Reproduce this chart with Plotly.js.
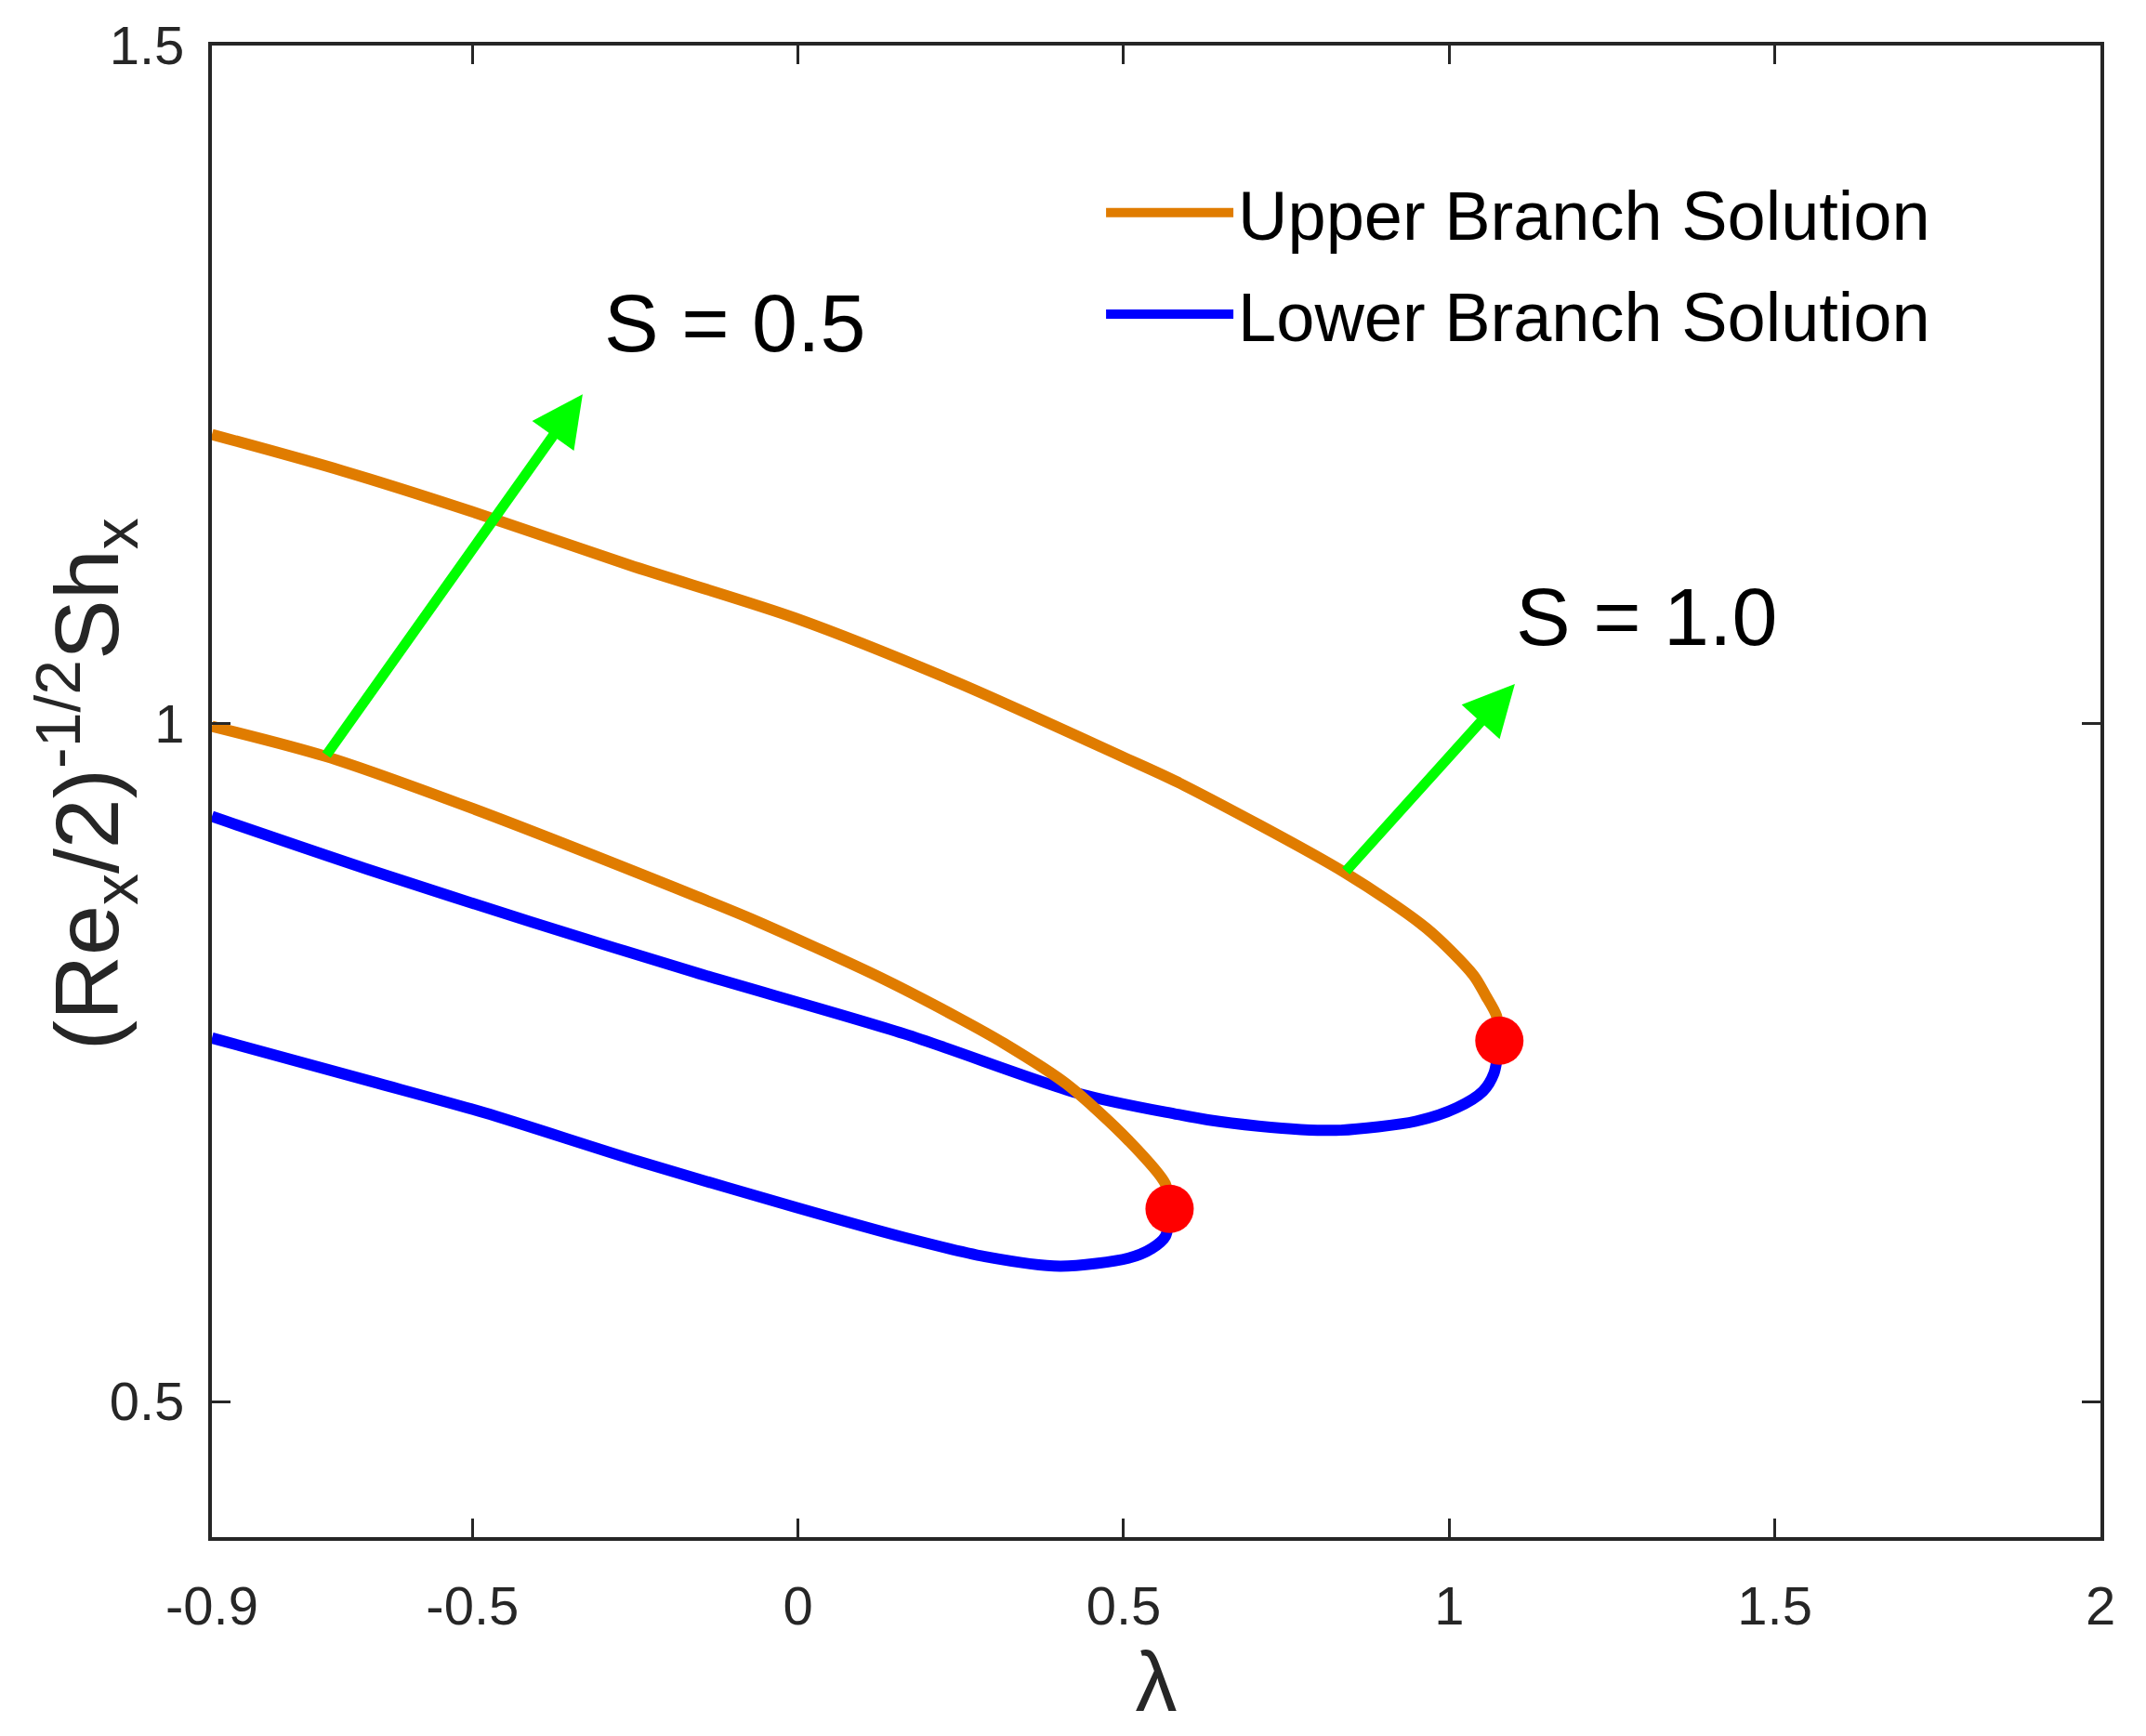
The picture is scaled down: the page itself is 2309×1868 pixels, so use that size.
<!DOCTYPE html>
<html>
<head>
<meta charset="utf-8">
<script src="https://cdn.plot.ly/plotly-3.0.1.min.js"></script>
<style>
  body { margin: 0; background: #fff; }
</style>
</head>
<body>
<div id="id_plotly_1" style="width:2309px;height:1868px;"></div>
<script>
// S = 1.0 upper branch
let x_up1 = [-0.9, -0.7004, -0.5008, -0.2592, -0.0029, 0.245, 0.497, 0.5832, 0.8395, 0.9655, 1.037, 1.0559, 1.0727, 1.077];
let y_up1 = [1.2132, 1.1865, 1.1563, 1.1169, 1.0776, 1.0302, 0.9758, 0.9567, 0.8901, 0.8488, 0.8145, 0.7994, 0.7843, 0.7661];

// S = 1.0 lower branch
let x_lo1 = [-0.9, -0.6584, -0.4105, -0.1584, 0.163, 0.434, 0.5832, 0.6294, 0.7071, 0.7723, 0.8332, 0.9487, 1.0118, 1.0517, 1.0685, 1.077];
let y_lo1 = [0.9315, 0.8921, 0.8538, 0.8165, 0.7712, 0.7268, 0.7117, 0.7077, 0.7031, 0.7006, 0.7001, 0.7067, 0.7167, 0.7288, 0.7419, 0.7661];

// S = 0.5 upper branch
let x_up05 = [-0.9, -0.7256, -0.5008, -0.1584, -0.066, 0.1273, 0.245, 0.3164, 0.413, 0.5076, 0.5643, 0.5706];
let y_up05 = [0.998, 0.9758, 0.9375, 0.873, 0.8548, 0.8125, 0.7833, 0.7641, 0.7339, 0.6925, 0.6603, 0.6421];

// S = 0.5 lower branch
let x_lo05 = [-0.9, -0.6542, -0.4819, -0.2466, -0.0029, 0.163, 0.287, 0.4025, 0.5076, 0.5433, 0.5643, 0.5706];
let y_lo05 = [0.7681, 0.7359, 0.7130, 0.6774, 0.6431, 0.621, 0.6069, 0.5998, 0.6058, 0.6129, 0.622, 0.6421];

// critical points (red dots)
let x_crit = [0.5706, 1.077];
let y_crit = [0.6421, 0.7661];

// arrows: tail -> head, and their labels
let arrow_tail_x = [-0.7256, 0.8395];
let arrow_tail_y = [0.9758, 0.8901];
let arrow_head_x = [-0.3307, 1.1008];
let arrow_head_y = [1.2429, 1.0292];
let label_text = ["S = 0.5", "S = 1.0"];
let label_x = [-0.0975, 1.3023];
let label_y = [1.2954, 1.079];

let x_ticks = [-0.9, -0.5, 0, 0.5, 1, 1.5, 2];
let x_ticktext = ["-0.9", "-0.5", "0", "0.5", "1", "1.5", "2"];
let y_ticks = [0.5, 1, 1.5];
let y_ticktext = ["0.5", "1", "1.5"];

let orange = "#e07c00";
let blue = "#0000ff";
let font_family = "Liberation Sans, Arial";

// common line style (smooth curves)
function curve(color) {
    return { color: color, width: 12, shape: "spline", smoothing: 0.8 };
}

let trace1 = {
    x: x_up1, y: y_up1,
    type: "scatter", mode: "lines",
    line: curve(orange),
    name: "Upper Branch Solution",
    legendgroup: "up",
};
let trace2 = {
    x: x_lo1, y: y_lo1,
    type: "scatter", mode: "lines",
    line: curve(blue),
    name: "Lower Branch Solution",
    legendgroup: "lo",
};
let trace3 = {
    x: x_up05, y: y_up05,
    type: "scatter", mode: "lines",
    line: curve(orange),
    name: "Upper Branch Solution",
    legendgroup: "up",
    showlegend: false,
};
let trace4 = {
    x: x_lo05, y: y_lo05,
    type: "scatter", mode: "lines",
    line: curve(blue),
    name: "Lower Branch Solution",
    legendgroup: "lo",
    showlegend: false,
};
let trace5 = {
    x: x_crit, y: y_crit,
    type: "scatter", mode: "markers",
    marker: { color: "#ff0000", size: 52 },
    showlegend: false,
};

let data = [trace1, trace2, trace3, trace4, trace5];

// green arrows + text labels
let annotations = [];
for (let i = 0; i < arrow_head_x.length; i++) {
    annotations.push({
        x: arrow_head_x[i], y: arrow_head_y[i],
        ax: arrow_tail_x[i], ay: arrow_tail_y[i],
        xref: "x", yref: "y", axref: "x", ayref: "y",
        text: "",
        showarrow: true,
        arrowhead: 2,
        arrowsize: 1.0,
        arrowwidth: 11,
        arrowcolor: "#00ff00",
    });
    annotations.push({
        x: label_x[i], y: label_y[i],
        xref: "x", yref: "y",
        text: label_text[i],
        showarrow: false,
        font: { family: font_family, size: 88, color: "#000" },
    });
}

// y-axis label placed as a rotated annotation (sits closer to the axis than the title allows)
annotations.push({
    x: -0.066, y: 0.505,
    xref: "paper", yref: "paper",
    xanchor: "center", yanchor: "middle",
    text: "(Re<sub>x</sub>/2)<sup>-1/2</sup>Sh<sub>x</sub>",
    textangle: -90,
    showarrow: false,
    font: { family: font_family, size: 97, color: "#262626" },
});

let axis_common = {
    showline: true,
    mirror: "ticks",
    linecolor: "#262626",
    linewidth: 4,
    ticks: "inside",
    ticklen: 20,
    tickwidth: 3,
    tickcolor: "#262626",
    showgrid: false,
    zeroline: false,
    tickfont: { family: font_family, size: 58, color: "#262626" },
};

let layout = {
    width: 2309,
    height: 1868,
    margin: { l: 228, r: 49, t: 49, b: 214 },
    paper_bgcolor: "#fff",
    plot_bgcolor: "#fff",
    showlegend: true,
    legend: {
        x: 0.471, y: 0.922,
        xanchor: "left", yanchor: "top",
        bgcolor: "rgba(0,0,0,0)",
        itemwidth: 137,
        font: { family: font_family, size: 74, color: "#000" },
    },
    xaxis: Object.assign({}, axis_common, {
        range: [-0.9, 2],
        tickvals: x_ticks,
        ticktext: x_ticktext,
        ticklabelstandoff: 20,
        title: {
            text: "λ",
            font: { family: font_family, size: 90, color: "#262626" },
            standoff: 14,
        },
    }),
    yaxis: Object.assign({}, axis_common, {
        range: [0.4, 1.5],
        tickvals: y_ticks,
        ticktext: y_ticktext,
        ticklabelstandoff: 14,
    }),
    annotations: annotations,
};

Plotly.newPlot("id_plotly_1", data, layout, { displayModeBar: false, staticPlot: true });
</script>
</body>
</html>
